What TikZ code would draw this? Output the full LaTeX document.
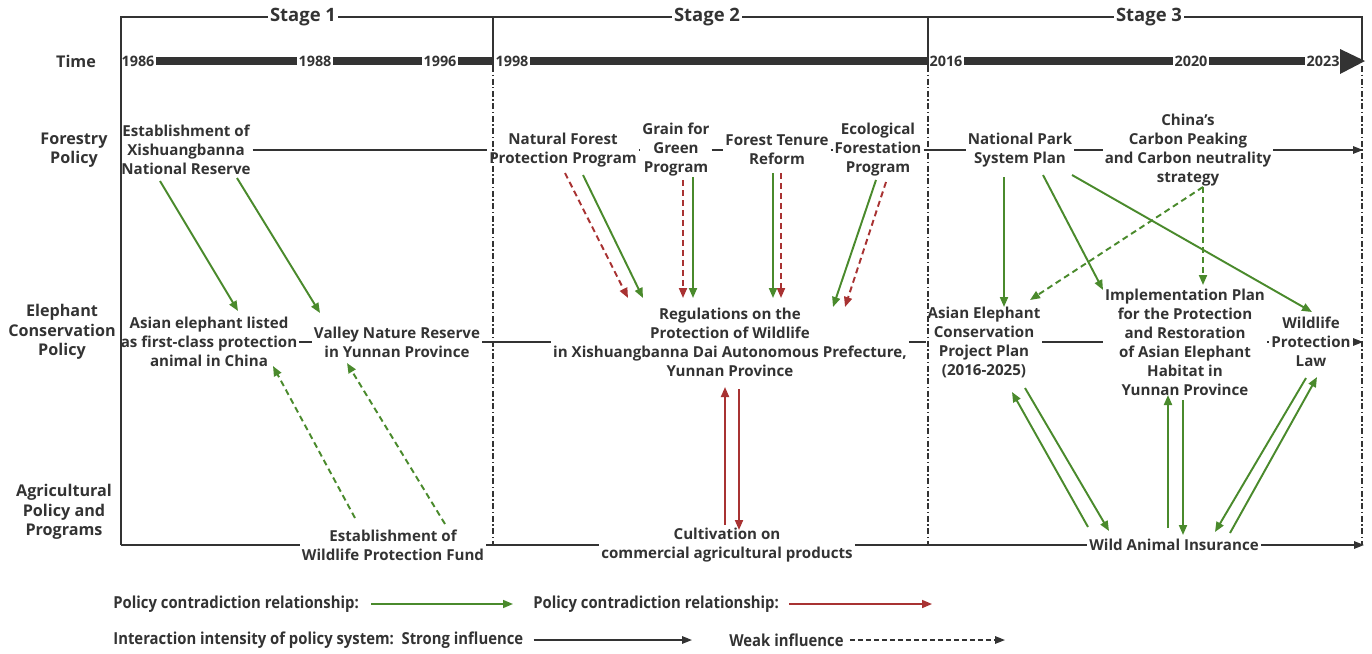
\documentclass[tikz,border=0pt]{standalone}
\usepackage{fontspec}
\setmainfont{Open Sans}
\newfontfamily\legfont[FakeStretch=0.9]{Open Sans}
\usetikzlibrary{arrows.meta,calc}
\definecolor{ink}{HTML}{333333}
\definecolor{gr}{HTML}{4A8A2C}
\definecolor{rd}{HTML}{A83232}
\begin{document}
\begin{tikzpicture}[x=0.02cm,y=-0.02cm,
  txt/.style={font=\bfseries\fontsize{8.6}{10.8}\selectfont, text=ink, align=center, inner sep=1pt},
  rowlab/.style={font=\bfseries\fontsize{9.2}{11}\selectfont, text=ink, align=center, inner sep=1pt},
  stagelab/.style={font=\bfseries\fontsize{10.5}{12}\selectfont, text=ink, inner sep=1pt},
  year/.style={font=\bfseries\fontsize{8.2}{10}\selectfont, text=ink, inner sep=0.6pt},
  leg/.style={font=\legfont\bfseries\fontsize{9.4}{11}\selectfont, text=ink, inner sep=0pt, anchor=west},
  frame/.style={draw=ink, line width=0.9pt},
  dashdot/.style={draw=ink, line width=0.9pt, dash pattern=on 0.12cm off 0.05cm on 0.03cm off 0.05cm},
  bar/.style={draw=ink, line width=4.5pt},
  chain/.style={draw=ink, line width=0.9pt},
  chainarrow/.style={chain, -{Triangle[length=0.2cm,width=0.15cm]}},
  ga/.style={draw=gr, line width=1.1pt, -{Triangle[length=0.2cm,width=0.16cm]}},
  ra/.style={draw=rd, line width=1.1pt, -{Triangle[length=0.2cm,width=0.16cm]}},
  weak/.style={dash pattern=on 0.12cm off 0.08cm}
]
\useasboundingbox (0,0) rectangle (1372,653);

% row labels
\node[rowlab] (lt) at (76,61) {Time};
\node[rowlab] (lf) at (74,150) {Forestry\\Policy};
\node[rowlab] (le) at (62,332) {Elephant\\Conservation\\Policy};
\node[rowlab] (la) at (64,512) {Agricultural\\Policy and\\Programs};

% stage labels and frame
\node[stagelab] (s1) at (303,17) {Stage 1};
\node[stagelab] (s2) at (707,17) {Stage 2};
\node[stagelab] (s3) at (1149,17) {Stage 3};
\draw[frame] (121,545) -- (121,17) -- (s1.west);
\draw[frame] (s1.east) -- (s2.west);
\draw[frame] (s2.east) -- (s3.west);
\draw[frame] (s3.east) -- (1362,17) -- (1362,62);
\draw[frame] (493,17) -- (493,66);
\draw[frame] (928,17) -- (928,66);
\draw[dashdot] (493,66) -- (493,545);
\draw[dashdot] (928,66) -- (928,545);
\draw[dashdot] (1362,66) -- (1362,545);

% timeline
\node[year] (y1986) at (138,61) {1986};
\node[year] (y1988) at (315,61) {1988};
\node[year] (y1996) at (440,61) {1996};
\node[year] (y1998) at (512,61) {1998};
\node[year] (y2016) at (946,61) {2016};
\node[year] (y2020) at (1191,61) {2020};
\node[year] (y2023) at (1323,61) {2023};
\coordinate (tip) at (1341,61);
\draw[bar] (y1986.east) -- (y1988.west);
\draw[bar] (y1988.east) -- (y1996.west);
\draw[bar] (y1996.east) -- (y1998.west);
\draw[bar] (y1998.east) -- (y2016.west);
\draw[bar] (y2016.east) -- (y2020.west);
\draw[bar] (y2020.east) -- (y2023.west);
\draw[bar] (y2023.east) -- (tip);
\fill[ink] (1340,49) -- (1365,61) -- (1340,74) -- cycle;

% forestry row
\node[txt] (est) at (186,150) {Establishment of\\Xishuangbanna\\National Reserve};
\node[txt] (nfp) at (563,150) {Natural Forest\\Protection Program};
\node[txt] (gfg) at (676,150) {Grain for\\Green\\Program};
\node[txt] (ftr) at (777,150) {Forest Tenure\\Reform};
\node[txt] (efp) at (878,150) {Ecological\\Forestation\\Program};
\node[txt] (nps) at (1020,150) {National Park\\System Plan};
\node[txt] (ccp) at (1188,150) {China's\\Carbon Peaking\\and Carbon neutrality\\strategy};
\coordinate (fend) at (1363,150);
\draw[chain] (est) -- (nfp);
\draw[chain] (nfp) -- (gfg);
\draw[chain] (gfg) -- (ftr);
\draw[chain] (ftr) -- (efp);
\draw[chain] (efp) -- (nps);
\draw[chain] (nps) -- (ccp);
\draw[chainarrow] (ccp) -- (fend);

% elephant row
\node[txt] (ael) at (209,342) {Asian elephant listed\\as first-class protection\\animal in China};
\node[txt] (vnr) at (397,342) {Valley Nature Reserve\\in Yunnan Province};
\node[txt] (reg) at (730,342) {Regulations on the\\Protection of Wildlife\\in Xishuangbanna Dai Autonomous Prefecture,\\Yunnan Province};
\node[txt] (aec) at (984,342) {Asian Elephant\\Conservation\\Project Plan\\(2016-2025)};
\node[txt] (ipp) at (1185,342) {Implementation Plan\\for the Protection\\and Restoration\\of Asian Elephant\\Habitat in\\Yunnan Province};
\node[txt] (wpl) at (1311,342) {Wildlife\\Protection\\Law};
\coordinate (eend) at (1363,342);
\draw[chain] (ael) -- (vnr);
\draw[chain] (vnr) -- (reg);
\draw[chain] (reg) -- (aec);
\draw[chain] (aec) -- (ipp);
\draw[chain] (ipp) -- (wpl);
\draw[chainarrow] (wpl) -- (eend);

% agricultural row
\node[txt] (wpf) at (393,545) {Establishment of\\Wildlife Protection Fund};
\node[txt] (cca) at (727,545) {Cultivation on\\commercial agricultural products};
\node[txt] (wai) at (1174,545) {Wild Animal Insurance};
\coordinate (astart) at (121,545);
\coordinate (aend) at (1364,545);
\draw[chain] (astart) -- (wpf);
\draw[chain] (wpf) -- (cca);
\draw[chain] (cca) -- (wai);
\draw[chainarrow] (wai) -- (aend);

% stage 1 arrows
\draw[ga] ($(est)+(-26,31)$) -- ($(ael)+(29,-31)$);
\draw[ga] ($(est)+(51,28)$) -- ($(vnr)+(-77,-29)$);
\draw[ga,weak] ($(wpf)+(-38,-27)$) -- ($(ael)+(64,24)$);
\draw[ga,weak] ($(wpf)+(52,-21)$) -- ($(vnr)+(-50,21)$);

% stage 2 arrows
\draw[ra,weak] ($(nfp)+(2,23)$) -- ($(reg)+(-102,-44)$);
\draw[ga] ($(nfp)+(20,25)$) -- ($(reg)+(-87,-44)$);
\draw[ra,weak] ($(gfg)+(7,30)$) -- ($(reg)+(-47,-44)$);
\draw[ga] ($(gfg)+(17,27)$) -- ($(reg)+(-37,-44)$);
\draw[ga] ($(ftr)+(-4,23)$) -- ($(reg)+(43,-44)$);
\draw[ra,weak] ($(ftr)+(4,23)$) -- ($(reg)+(51,-44)$);
\draw[ga] ($(efp)+(-2,30)$) -- ($(reg)+(103,-35)$);
\draw[ra,weak] ($(efp)+(8,32)$) -- ($(reg)+(115,-35)$);
\draw[ra] ($(cca)+(-2,-20)$) -- ($(reg)+(-5,45)$);
\draw[ra] ($(reg)+(9,47)$) -- ($(cca)+(12,-15)$);

% stage 3 arrows
\draw[ga] ($(nps)+(-16,27)$) -- ($(aec)+(20,-35)$);
\draw[ga] ($(nps)+(23,25)$) -- ($(ipp)+(-82,-52)$);
\draw[ga] ($(nps)+(52,25)$) -- ($(wpl)+(1,-30)$);
\draw[ga,weak] ($(ccp)+(15,37)$) -- ($(aec)+(46,-42)$);
\draw[ga,weak] ($(ccp)+(15,37)$) -- ($(ipp)+(18,-57)$);
\draw[ga] ($(wai)+(-86,-18)$) -- ($(aec)+(28,50)$);
\draw[ga] ($(aec)+(41,46)$) -- ($(wai)+(-65,-14)$);
\draw[ga] ($(wai)+(-6,-17)$) -- ($(ipp)+(-17,53)$);
\draw[ga] ($(ipp)+(-2,58)$) -- ($(wai)+(9,-10)$);
\draw[ga] ($(wpl)+(-5,36)$) -- ($(wai)+(41,-13)$);
\draw[ga] ($(wai)+(56,-12)$) -- ($(wpl)+(6,35)$);

% legend
\node[leg] (lg1) at (113,604) {Policy contradiction relationship:};
\node[leg] (lg2) at (533,604) {Policy contradiction relationship:};
\coordinate (lgre) at (932,604);
\draw[ga, line width=0.9pt] ($(lg1.east)+(12,0)$) -- ($(lg2.west)+(-20,0)$);
\draw[ra, line width=0.9pt] ($(lg2.east)+(10,0)$) -- (lgre);
\node[leg] (lg3) at (113,640) {Interaction intensity of policy system:\ \ Strong influence};
\node[leg] (lg4) at (729,640) {Weak influence};
\coordinate (lgde) at (1005,640);
\draw[chainarrow] ($(lg3.east)+(10,0)$) -- ($(lg4.west)+(-37,0)$);
\draw[chainarrow, dash pattern=on 0.1cm off 0.06cm] ($(lg4.east)+(6,0)$) -- (lgde);
\end{tikzpicture}
\end{document}
